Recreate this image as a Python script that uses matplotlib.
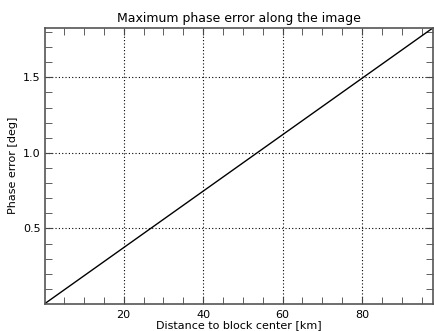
import matplotlib
matplotlib.use("Agg")
import matplotlib.pyplot as plt
from matplotlib.ticker import MultipleLocator, FixedLocator

# data: linear phase error vs distance
distance_km = [0.2, 98.0]
phase_error_deg = [0.0037, 1.83]
x_ticks = [20, 40, 60, 80]
y_ticks = [0.5, 1.0, 1.5]

fig = plt.figure(figsize=(4.35, 3.31), dpi=100)
L, R, T, B = 45, 433.5, 27.5, 303.5
ax = fig.add_axes([L/435, 1-B/331, (R-L)/435, (B-T)/331])
ax.plot(distance_km, phase_error_deg, color='black', lw=1.0)
ax.set_xlim(distance_km[0], distance_km[1])
ax.set_ylim(phase_error_deg[0], phase_error_deg[1])
ax.xaxis.set_major_locator(FixedLocator(x_ticks))
ax.yaxis.set_major_locator(FixedLocator(y_ticks))
ax.set_yticklabels([f"{v:.1f}" for v in y_ticks])
ax.xaxis.set_minor_locator(MultipleLocator(5))
ax.yaxis.set_minor_locator(MultipleLocator(0.1))
ax.tick_params(which='both', direction='in', top=True, right=True, labelsize=8, color='#444444')
ax.tick_params(which='major', length=5, pad=5)
ax.tick_params(axis='y', which='major', pad=3)
ax.tick_params(which='minor', length=5)
ax.grid(True, which='major', linestyle=(0, (1, 2)), color='black', lw=0.8)
for s in ax.spines.values():
    s.set_color('#555555')
    s.set_linewidth(1.2)
ax.set_title("Maximum phase error along the image", fontsize=9, pad=4)
ax.set_xlabel("Distance to block center [km]", fontsize=8, labelpad=0)
ax.set_ylabel("Phase error [deg]", fontsize=8, labelpad=4)
fig.savefig("out.png", dpi=100)
